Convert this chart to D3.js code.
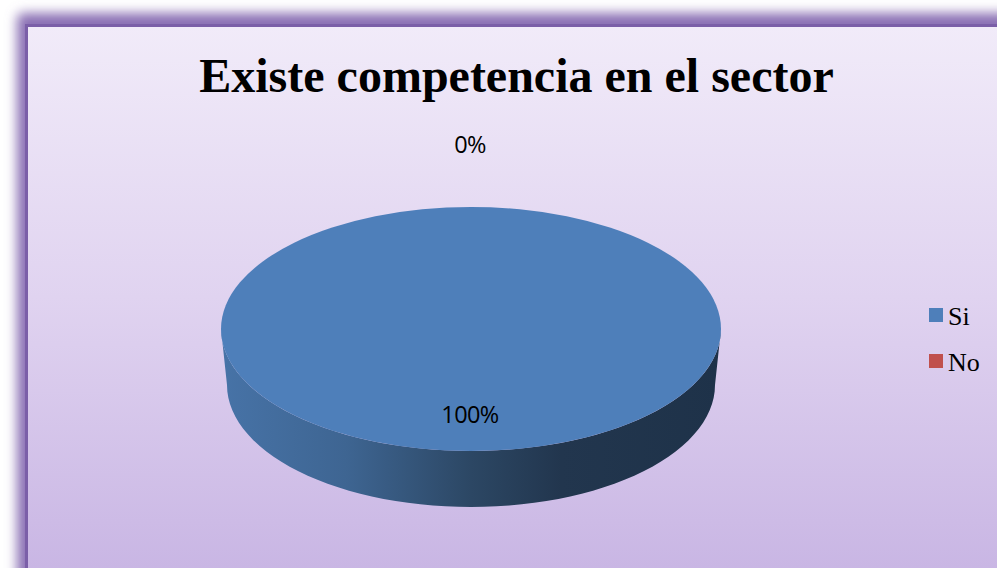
<!DOCTYPE html>
<html>
<head>
<meta charset="utf-8">
<script src="https://cdn.jsdelivr.net/npm/d3@7"></script>
<style>
html,body{margin:0;padding:0;background:#fff;overflow:hidden}
svg{display:block}
</style>
</head>
<body>
<svg id="chart" width="997" height="568"></svg>
<script>
const chartTitle = "Existe competencia en el sector";
const categories = ["Si", "No"];
const values = [100, 0];
const sliceColors = ["#4e7fba", "#c0504d"];

const W = 997, H = 568;
const svg = d3.select("#chart");
const defs = svg.append("defs");

// Panel fill, running from pale lilac at the top to a deeper violet at the bottom
const bg = defs.append("linearGradient").attr("id", "panelFill")
  .attr("gradientUnits", "userSpaceOnUse")
  .attr("x1", 0).attr("y1", 27).attr("x2", 0).attr("y2", 568);
[[0, "#f1ebf9"], [0.5, "#e0d3f0"], [1, "#c9b6e4"]].forEach(([o, c]) =>
  bg.append("stop").attr("offset", o).attr("stop-color", c));

// Soft glow behind the panel edge
defs.append("filter").attr("id", "glow")
  .attr("x", -0.1).attr("y", -0.1).attr("width", 1.2).attr("height", 1.2)
  .append("feGaussianBlur").attr("stdDeviation", 6);

// Side wall shading: lit at the left, falling to dark navy at the right
const wall = defs.append("linearGradient").attr("id", "wallFill")
  .attr("gradientUnits", "userSpaceOnUse")
  .attr("x1", 221).attr("y1", 0).attr("x2", 721).attr("y2", 0);
[[0, "#4773a7"], [0.25, "#3e6592"], [0.5, "#2c4764"], [0.68, "#22364e"], [1, "#1e3249"]].forEach(([o, c]) =>
  wall.append("stop").attr("offset", o).attr("stop-color", c));

svg.append("rect")
  .attr("x", 17).attr("y", 13).attr("width", W + 40).attr("height", H + 40)
  .attr("rx", 6)
  .attr("fill", "#8a70b4").attr("filter", "url(#glow)");

svg.append("rect")
  .attr("x", 26.5).attr("y", 25.5).attr("width", W + 40).attr("height", H + 40)
  .attr("fill", "url(#panelFill)")
  .attr("stroke", "#7b5fa8").attr("stroke-width", 3);

svg.append("text")
  .attr("x", 516.5).attr("y", 92)
  .attr("text-anchor", "middle")
  .attr("font-family", "'Liberation Serif'")
  .attr("font-weight", "bold").attr("font-size", 48)
  .attr("fill", "#000")
  .text(chartTitle);

// Pie geometry
const cx = 471, cy = 329, rx = 250, ry = 122;
const wallRx = 244, wallCy = 385, wallRy = 122;

const color = d3.scaleOrdinal().domain(categories).range(sliceColors);
const data = categories.map((c, i) => ({category: c, value: values[i]}));
const arcs = d3.pie().sort(null).value(d => d.value).startAngle(0)(data);

// Front wall: lower half of the top rim joined to the lower half of the base rim
const frontAngles = d3.range(0, 181, 3).map(d => d * Math.PI / 180);
const rim = t => [cx + rx * Math.cos(t), cy + ry * Math.sin(t)];
const base = t => [cx + wallRx * Math.cos(t), wallCy + wallRy * Math.sin(t)];
const line = d3.line();
const wallPath = line(frontAngles.map(rim)) + "L" +
  line(frontAngles.slice().reverse().map(base)).slice(1) + "Z";

svg.append("path")
  .attr("d", wallPath)
  .attr("fill", "url(#wallFill)");

// Top face, one d3.arc per slice squashed into an ellipse
const arcGen = d3.arc().innerRadius(0).outerRadius(rx);
svg.append("g")
  .attr("transform", `translate(${cx},${cy}) scale(1,${ry / rx})`)
  .selectAll("path")
  .data(arcs)
  .join("path")
  .attr("d", arcGen)
  .attr("fill", d => color(d.data.category));

// Percentage labels
const total = d3.sum(values);
const pct = d3.format(".0%");
const labelY = d3.scaleOrdinal().domain(categories).range([423, 153]);
svg.append("g").selectAll("text")
  .data(data)
  .join("text")
  .attr("x", 470)
  .attr("y", d => labelY(d.category))
  .attr("text-anchor", "middle")
  .attr("font-family", "'Open Sans'")
  .attr("font-size", 23.5)
  .attr("letter-spacing", -0.6)
  .attr("fill", "#000")
  .text(d => pct(d.value / total));

// Legend
const legendY = d3.scalePoint().domain(categories).range([315, 361]);
const legend = svg.append("g").selectAll("g")
  .data(categories)
  .join("g")
  .attr("transform", d => `translate(929,${legendY(d)})`);
legend.append("rect")
  .attr("x", 0).attr("y", -7).attr("width", 14).attr("height", 14)
  .attr("fill", d => color(d));
legend.append("text")
  .attr("x", 19).attr("y", 9.5)
  .attr("font-family", "'Liberation Serif'")
  .attr("font-size", 26)
  .attr("fill", "#000")
  .text(d => d);
</script>
</body>
</html>
